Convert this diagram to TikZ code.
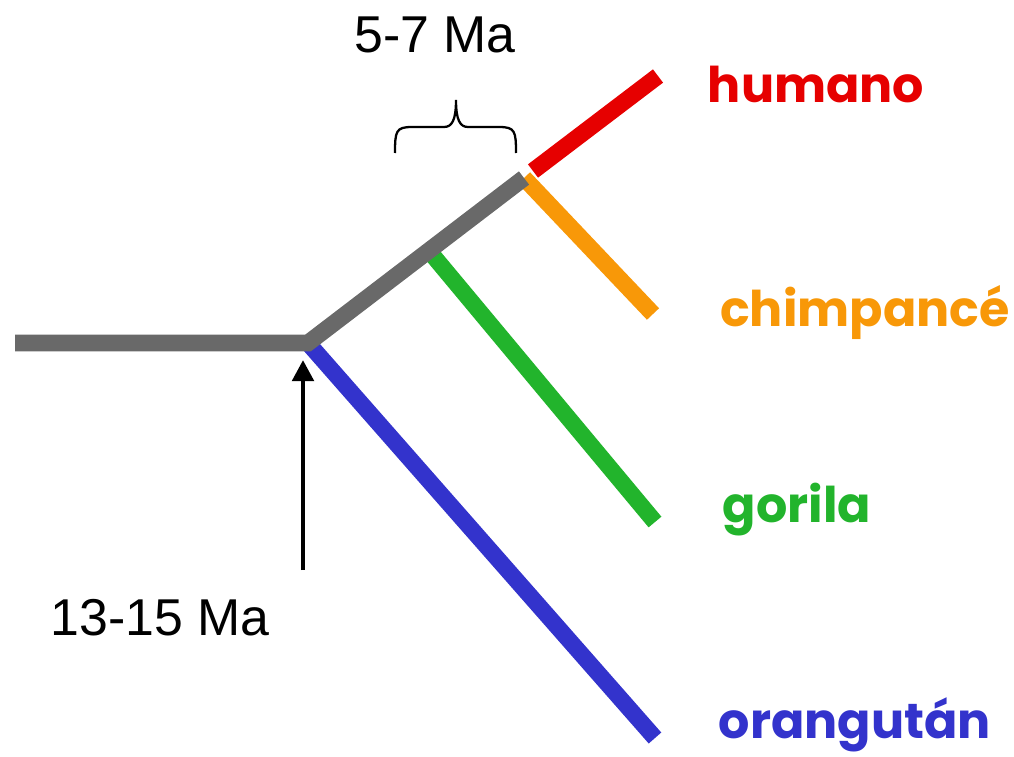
\documentclass[tikz,border=0pt]{standalone}
\usepackage{fontspec}
\setmainfont{Liberation Sans}
\newfontfamily\labfont{Poppins}
\usetikzlibrary{arrows.meta}
\definecolor{Rojo}{RGB}{230,0,0}
\definecolor{Naranja}{RGB}{248,152,8}
\definecolor{Verde}{RGB}{34,180,44}
\definecolor{Azul}{RGB}{51,51,204}
\definecolor{Gris}{RGB}{105,105,105}
\tikzset{
  rama/.style={line width=9.5pt},
  especie/.style={font=\labfont\bfseries\fontsize{28}{30}\selectfont},
  edad/.style={font=\fontsize{29.5}{34}\selectfont}
}

\begin{document}
\begin{tikzpicture}[x=0.02cm, y=-0.02cm]
    \useasboundingbox (0,0) rectangle (1014,757);

    % Branch points
    \coordinate (raiz) at (15,343);
    \coordinate (n1) at (308,343);
    \coordinate (n2) at (430,252);
    \coordinate (n3) at (524,178);
    \coordinate (hum0) at (533,171);
    \coordinate (hum) at (658,76);
    \coordinate (chi) at (653,314);
    \coordinate (gor) at (655,522);
    \coordinate (ora) at (655,738);
    \coordinate (flecha) at (303,570);
    \coordinate (flechatip) at (303,360);
    \coordinate (llaveA) at (395,153);
    \coordinate (llaveB) at (516,153);
    \coordinate (llaveC) at (456,100);

    % Branches
    \draw[rama, Azul] (n1) -- (ora);
    \draw[rama, Verde] (n2) -- (gor);
    \draw[rama, Naranja] (n3) -- (chi);
    \draw[rama, Rojo] (hum0) -- (hum);
    \draw[rama, Gris] (raiz) -- (n1) -- (n3);

    % Species
    \node[especie, text=Rojo] (humano) at (816,84) {humano};
    \node[especie, text=Naranja] (chimp) at (865,313) {chimpancé};
    \node[especie, text=Verde] (gorila) at (797,510) {gorila};
    \node[especie, text=Azul] (orang) at (855,725) {orangután};

    % Ages
    \draw[line width=2.8pt, -{Triangle[length=12pt,width=12pt]}] (flecha) -- (flechatip);
    \node[edad] (edad1) at (160,618) {13-15 Ma};
    \draw[line width=1.3pt] (llaveA) .. controls +(0,-22) and (396,127) .. (412,127)
        -- (444,127) .. controls (452,127) and (llaveC|-120,120) .. (llaveC)
        .. controls (llaveC|-120,120) and (460,127) .. (468,127)
        -- (499,127) .. controls (515,127) and +(0,-22) .. (llaveB);
    \node[edad] (edad2) at (435,35) {5-7 Ma};
\end{tikzpicture}
\end{document}
